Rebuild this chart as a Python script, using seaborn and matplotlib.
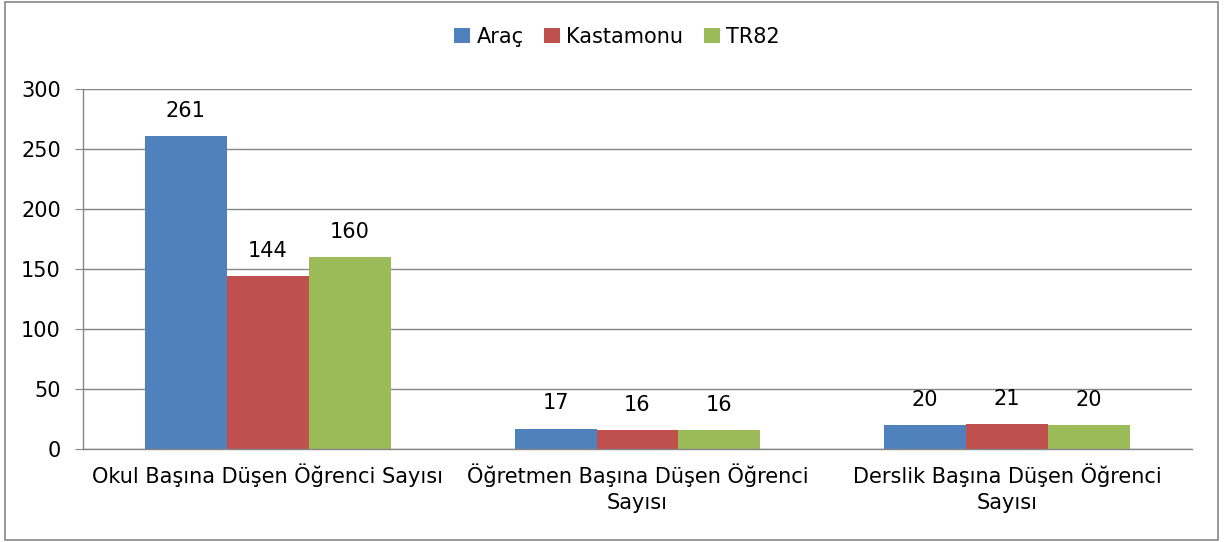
import pandas as pd
import numpy as np
import matplotlib.pyplot as plt
import seaborn as sns
from matplotlib.patches import Rectangle

sns.set_style('white')
plt.rcParams['font.family'] = ['DejaVu Sans']
plt.rcParams['text.color'] = 'black'
plt.rcParams['xtick.color'] = 'black'
plt.rcParams['ytick.color'] = 'black'

# data
categories = ['Okul Başına Düşen Öğrenci Sayısı',
              'Öğretmen Başına Düşen Öğrenci\nSayısı',
              'Derslik Başına Düşen Öğrenci\nSayısı']
series = ['Araç', 'Kastamonu', 'TR82']
arac = [261, 17, 20]
kastamonu = [144, 16, 21]
tr82 = [160, 16, 20]
colors = ['#4F81BD', '#C0504D', '#9BBB59']

df = pd.DataFrame({'kategori': categories * 3,
                   'seri': [s for s in series for _ in categories],
                   'deger': arac + kastamonu + tr82})

fs = 15

fig = plt.figure(figsize=(12.27, 5.42), dpi=100)
ax = fig.add_axes([83 / 1227, 93 / 542, 1109 / 1227, 360 / 542])

sns.barplot(data=df, x='kategori', y='deger', hue='seri', palette=colors,
            width=0.665, gap=0, saturation=1, ax=ax, edgecolor='none')

for c in ax.containers:
    ax.bar_label(c, fmt='%d', padding=11, fontsize=fs, color='black')

ax.set_ylim(0, 300)
ax.set_yticks(np.arange(0, 301, 50))
ax.set_xlim(-0.5, 2.5)
ax.set_xlabel('')
ax.set_ylabel('')
ax.yaxis.grid(True, color='#868686', linewidth=1)
ax.set_axisbelow(True)

# excel-like ticks: marks between categories, labels centered
ax.set_xticks([-0.5, 0.5, 1.5, 2.5])
ax.set_xticklabels([])
ax.set_xticks([0, 1, 2], minor=True)
ax.set_xticklabels(categories, minor=True, fontsize=fs, linespacing=1.4)
ax.tick_params(axis='x', which='minor', length=0, pad=10, labelcolor='black')
ax.tick_params(axis='x', which='major', length=6, color='#868686', direction='out')
ax.tick_params(axis='y', length=6, color='#868686', labelsize=fs, left=True,
               direction='out', pad=10, labelcolor='black')

for s in ['top', 'right']:
    ax.spines[s].set_visible(False)
for s in ['left', 'bottom']:
    ax.spines[s].set_color('#868686')
    ax.spines[s].set_linewidth(1)

ax.legend(loc='center', bbox_to_anchor=(617 / 1227, 1 - 37 / 542),
          bbox_transform=fig.transFigure, ncol=3, frameon=False, fontsize=fs,
          handlelength=0.75, handleheight=0.75, handletextpad=0.3, columnspacing=1.0)

fig.patches.append(Rectangle((5 / 1227, 2 / 542), 1213 / 1227, 538 / 542,
                             transform=fig.transFigure, fill=False,
                             edgecolor='#868686', linewidth=1.2))

fig.savefig('out.png', dpi=100)
